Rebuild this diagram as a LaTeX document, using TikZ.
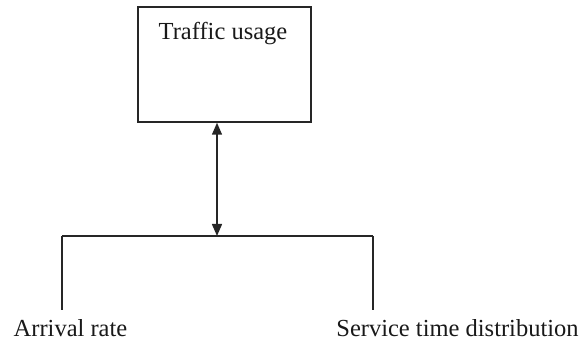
\documentclass[tikz,border=0pt]{standalone}
\usepackage{fontspec}
\setmainfont{Liberation Serif}
\usetikzlibrary{arrows.meta}
\begin{document}
\begin{tikzpicture}[x=1pt,y=-1pt,
  line/.style={line width=1.5pt,draw=black!85},
  lbl/.style={font=\fontsize{24.5}{28}\selectfont,inner sep=0pt,text=black!90},
  tip/.style={-{Triangle[width=10pt,length=12pt]}}]
\useasboundingbox (0,0) rectangle (581,347);
\node[line,draw,minimum width=173pt,minimum height=115pt,inner sep=0pt] (box) at (224.5,64.5) {};
\node[lbl] (title) at (223,34) {Traffic usage};
\coordinate (j) at (217,236);
\coordinate (l) at (62,236);
\coordinate (r) at (373,236);
\coordinate (lb) at (62,310);
\coordinate (rb) at (373,310);
\node[lbl] (arr) at (70.5,328) {Arrival rate};
\node[lbl] (svc) at (457.5,328) {Service time distribution};
\draw[line] (l) -- (r);
\draw[line] (l) -- (lb);
\draw[line] (r) -- (rb);
\draw[line,{Triangle[width=10pt,length=12pt]}-{Triangle[width=10pt,length=12pt]}] (j |- box.south) -- (j);
\end{tikzpicture}
\end{document}
